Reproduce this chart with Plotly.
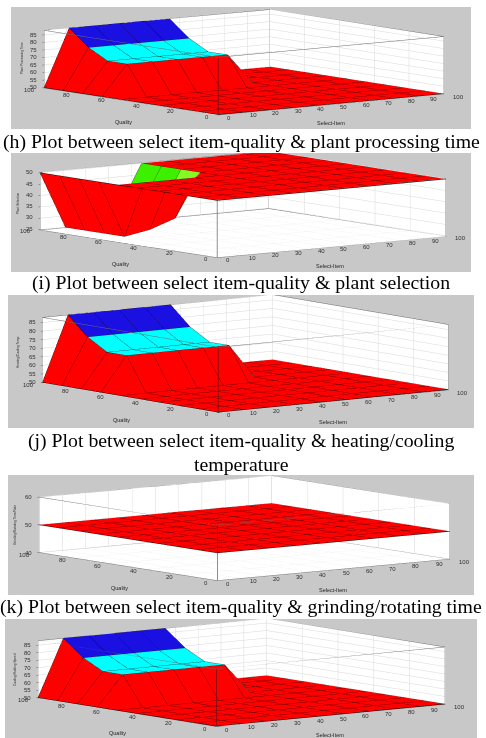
import math
import plotly.graph_objects as go

W, H = 486, 738

# Shared input grids of the fuzzy rule surfaces
SELECT_ITEM = [0, 11.1, 22.2, 33.3, 44.4, 55.6, 66.7, 77.8, 88.9, 100]
QUALITY = [0, 11.1, 22.2, 33.3, 44.4, 55.6, 66.7, 77.8, 88.9, 100]
SELECT_TICKS = [0, 10, 20, 30, 40, 50, 60, 70, 80, 90, 100]
QUALITY_TICKS = [0, 20, 40, 60, 80, 100]

# Output surfaces: one row per QUALITY value, one column per SELECT_ITEM value
PROCESSING_TIME = [
    [50, 50, 50, 50, 50, 50, 50, 50, 50, 50],
    [50, 50, 50, 50, 50, 50, 50, 50, 50, 50],
    [50, 50, 50, 50, 50, 50, 50, 50, 50, 50],
    [50, 50, 50, 50, 50, 50, 50, 50, 50, 50],
    [50, 50, 50, 50, 50, 50, 50, 50, 50, 50],
    [50, 50, 50, 50, 50, 50, 50, 50, 50, 50],
    [50, 70, 70, 70, 70, 70, 50, 50, 50, 50],
    [50, 70, 70, 70, 70, 70, 50, 50, 50, 50],
    [50, 77, 77, 77, 77, 77, 50, 50, 50, 50],
    [50, 88, 88, 88, 88, 88, 50, 50, 50, 50],
]
PLANT_SELECTION = [
    [50, 50, 50, 50, 50, 50, 50, 50, 50, 50],
    [50, 50, 50, 50, 50, 50, 50, 50, 50, 50],
    [50, 50, 50, 50, 50, 50, 50, 50, 50, 50],
    [50, 50, 50, 50, 50, 50, 50, 50, 50, 50],
    [50, 50, 50, 50, 50, 50, 50, 50, 50, 50],
    [50, 50, 50, 50, 50, 50, 50, 50, 50, 50],
    [50, 25, 27, 31, 50, 50, 50, 50, 50, 50],
    [50, 25, 27, 29, 50, 50, 50, 50, 50, 50],
    [50, 25, 27, 29, 50, 50, 50, 50, 50, 50],
    [50, 25, 27, 29, 50, 50, 50, 50, 50, 50],
]
HEATING_TEMP = [
    [50, 50, 50, 50, 50, 50, 50, 50, 50, 50],
    [50, 50, 50, 50, 50, 50, 50, 50, 50, 50],
    [50, 50, 50, 50, 50, 50, 50, 50, 50, 50],
    [50, 50, 50, 50, 50, 50, 50, 50, 50, 50],
    [50, 50, 50, 50, 50, 50, 50, 50, 50, 50],
    [50, 50, 50, 50, 50, 50, 50, 50, 50, 50],
    [50, 70, 70, 70, 70, 70, 50, 50, 50, 50],
    [50, 70, 70, 70, 70, 70, 50, 50, 50, 50],
    [50, 77, 77, 77, 77, 77, 50, 50, 50, 50],
    [50, 88, 88, 88, 88, 88, 50, 50, 50, 50],
]
GRINDING_TIME = [[50] * 10 for _ in QUALITY]
HOLDING_SPEED = [
    [50, 50, 50, 50, 50, 50, 50, 50, 50, 50],
    [50, 50, 50, 50, 50, 50, 50, 50, 50, 50],
    [50, 50, 50, 50, 50, 50, 50, 50, 50, 50],
    [50, 50, 50, 50, 50, 50, 50, 50, 50, 50],
    [50, 50, 50, 50, 50, 50, 50, 50, 50, 50],
    [50, 50, 50, 50, 50, 50, 50, 50, 50, 50],
    [50, 70, 70, 70, 70, 70, 50, 50, 50, 50],
    [50, 70, 70, 70, 70, 70, 50, 50, 50, 50],
    [50, 77, 77, 77, 77, 77, 50, 50, 50, 50],
    [50, 88, 88, 88, 88, 88, 50, 50, 50, 50],
]

Z_TICKS_TIME = [50, 55, 60, 65, 70, 75, 80, 85]
Z_TICKS_SELECTION = [25, 30, 35, 40, 45, 50]
Z_TICKS_GRINDING = [40, 50, 60]

RED, BLUE, CYAN = "#ff0000", "#1a10e2", "#00ffff"
GREEN, LIME = "#3cf000", "#84fa24"
PANEL = "#c8c8c8"
SERIF = "Liberation Serif"
SANS = "Liberation Sans"

TIME_BANDS = [(60, RED), (75, CYAN), (1e9, BLUE)]
SELECTION_BANDS = [(28, RED), (30, GREEN), (45, LIME), (1e9, RED)]
FLAT_BANDS = [(1e9, RED)]

# Each panel: rectangle in pixels, surface, axis scale, camera framing and titles.
# The z limits sit just past the flat levels so walls never fight the surface.
PANELS = [
    dict(box=(11, 7, 471, 128.5), z=PROCESSING_TIME, zr=(49.7, 88), zt=Z_TICKS_TIME, bands=TIME_BANDS,
         corners=dict(left=(43, 88), front=(218, 115), right=(445, 94), height=58),
         ztitle="Plant Processing Time", zpos=(22, 58), qpos=(123, 122), spos=(331, 123)),
    dict(box=(11, 152.5, 471, 271), z=PLANT_SELECTION, zr=(24.8, 50.2), zt=Z_TICKS_SELECTION, bands=SELECTION_BANDS,
         corners=dict(left=(39, 231), front=(217, 257), right=(447, 234), height=58),
         ztitle="Plant Selection", zpos=(18, 204), qpos=(120, 264), spos=(330, 265.5)),
    dict(box=(8, 295, 474, 427.7), z=HEATING_TEMP, zr=(49.7, 88), zt=Z_TICKS_TIME, bands=TIME_BANDS,
         corners=dict(left=(41, 383), front=(218, 413), right=(450, 390), height=66),
         ztitle="Heating/Cooling Temp", zpos=(18, 352), qpos=(121, 420), spos=(333, 422)),
    dict(box=(8, 475, 474, 595), z=GRINDING_TIME, zr=(40, 60), zt=Z_TICKS_GRINDING, bands=FLAT_BANDS,
         corners=dict(left=(37, 553), front=(217, 581), right=(452, 559), height=56),
         ztitle="Grinding/Rotating Time/Rate", zpos=(15, 525), qpos=(119, 588), spos=(333, 590)),
    dict(box=(5, 619, 477, 738), z=HOLDING_SPEED, zr=(49.7, 88), zt=Z_TICKS_TIME, bands=TIME_BANDS,
         corners=dict(left=(36, 699), front=(216, 727), right=(447, 704), height=58),
         ztitle="Cooling/Holding Speed", zpos=(15, 670), qpos=(117, 733), spos=(330, 735)),
]

CAPTIONS = [
    ("(h) Plot between select item-quality &amp; plant processing time", 241, 141),
    ("(i) Plot between select item-quality &amp; plant selection", 241, 283),
    ("(j) Plot between select item-quality &amp; heating/cooling", 241, 440),
    ("temperature", 241, 464),
    ("(k) Plot between select item-quality &amp; grinding/rotating time", 241, 606),
]

# Orthographic zoom in plotly follows aspectratio: one aspect unit spans this share of the scene height
UNIT_PER_HEIGHT = 0.505


def band_color(value, bands):
    for limit, color in bands:
        if value < limit:
            return color
    return bands[-1][1]


def mesh_trace(z, bands, scene):
    xs, ys, zs, i, j, k, colors = [], [], [], [], [], [], []
    nq, ns = len(QUALITY), len(SELECT_ITEM)
    for r in range(nq):
        for c in range(ns):
            xs.append(SELECT_ITEM[c])
            ys.append(QUALITY[r])
            zs.append(z[r][c])
    for r in range(nq - 1):
        for c in range(ns - 1):
            a, b = r * ns + c, r * ns + c + 1
            d, e = (r + 1) * ns + c, (r + 1) * ns + c + 1
            color = band_color(z[r][c], bands)
            i += [a, a]
            j += [b, e]
            k += [e, d]
            colors += [color, color]
    return go.Mesh3d(x=xs, y=ys, z=zs, i=i, j=j, k=k, facecolor=colors, flatshading=True,
                     lighting=dict(ambient=1, diffuse=0, specular=0, roughness=1, fresnel=0),
                     hoverinfo="skip", showscale=False, scene=scene)


def grid_trace(z, scene):
    xs, ys, zs = [], [], []
    for r, q in enumerate(QUALITY):
        xs += SELECT_ITEM + [None]
        ys += [q] * len(SELECT_ITEM) + [None]
        zs += z[r] + [None]
    for c, s in enumerate(SELECT_ITEM):
        xs += [s] * len(QUALITY) + [None]
        ys += QUALITY + [None]
        zs += [row[c] for row in z] + [None]
    return go.Scatter3d(x=xs, y=ys, z=zs, mode="lines", line=dict(color="#180000", width=1),
                        hoverinfo="skip", showlegend=False, scene=scene)


def box_trace(zr, scene):
    lo, hi = zr
    xs, ys, zs = [], [], []
    for a in (0, 100):
        xs += [a, a, None, a, a, None]; ys += [0, 100, None, 0, 100, None]; zs += [lo, lo, None, hi, hi, None]
        xs += [0, 100, None, 0, 100, None]; ys += [a, a, None, a, a, None]; zs += [lo, lo, None, hi, hi, None]
        for b in (0, 100):
            if (a, b) != (0, 0):
                xs += [a, a, None]; ys += [b, b, None]; zs += [lo, hi, None]
    return go.Scatter3d(x=xs, y=ys, z=zs, mode="lines", line=dict(color="#6a6a6a", width=1),
                        hoverinfo="skip", showlegend=False, scene=scene)


def front_edge_trace(zr, scene):
    return go.Scatter3d(x=[0, 0], y=[0, 0], z=list(zr), mode="lines", line=dict(color="#202020", width=1),
                        hoverinfo="skip", showlegend=False, scene=scene)


def axis(ticks, rng):
    return dict(range=list(rng), tickmode="array", tickvals=ticks, title=dict(text=""),
                showbackground=True, backgroundcolor="white", gridcolor="#d8d8d8", gridwidth=1,
                zeroline=False, showline=False, showspikes=False, ticks="outside", ticklen=2,
                tickcolor="#555555", showticklabels=False)


def tick_label(value, x, y, z, anchor, xshift, yshift):
    return dict(x=x, y=y, z=z, text=str(value), showarrow=False, xanchor=anchor, yanchor="middle",
                xshift=xshift, yshift=yshift, font=dict(family=SANS, size=6, color="#303030"))


def tick_labels(p):
    lo = p["zr"][0]
    labels = [tick_label(s, s, 0, lo, "left", 7, -3) for s in SELECT_TICKS]
    labels += [tick_label(q, 0, q, lo, "right", -7, -2) for q in QUALITY_TICKS]
    labels += [tick_label(v, 0, 100, v, "right", -5, 0) for v in p["zt"]]
    return labels


def scene_layout(p):
    x0, y0, x1, y1 = p["box"]
    c = p["corners"]
    # Screen vectors of the two horizontal axes give the orthographic view angles
    sx, sy = c["right"][0] - c["front"][0], c["front"][1] - c["right"][1]
    qx, qy = c["front"][0] - c["left"][0], c["front"][1] - c["left"][1]
    sin_e = math.sqrt((sy / sx) * (qy / qx))
    az = math.atan2(qx, sx)
    cos_e = math.sqrt(1 - sin_e ** 2)
    span = math.hypot(sx, qx)
    unit = UNIT_PER_HEIGHT * (y1 - y0)
    dir_vec = (-math.sin(az) * cos_e, -math.cos(az) * cos_e, sin_e)
    # Pixel offset of the box centre from the panel centre, expressed in scene units
    bx = (c["left"][0] + c["right"][0]) / 2
    by = (c["left"][1] + c["right"][1]) / 2 - c["height"] / 2
    dx = (bx - (x0 + x1) / 2) / unit
    dy = (by - (y0 + y1) / 2) / unit
    right = (math.cos(az), -math.sin(az), 0)
    up = (math.sin(az) * sin_e, math.cos(az) * sin_e, cos_e)
    center = tuple(-dx * r + dy * u for r, u in zip(right, up))
    eye = tuple(ce + 8 * d for ce, d in zip(center, dir_vec))
    return dict(
        domain=dict(x=[x0 / W, x1 / W], y=[1 - y1 / H, 1 - y0 / H]),
        bgcolor=PANEL,
        aspectmode="manual",
        aspectratio=dict(x=span / unit, y=span / unit, z=c["height"] / (unit * cos_e)),
        camera=dict(projection=dict(type="orthographic"), up=dict(x=0, y=0, z=1),
                    center=dict(x=center[0], y=center[1], z=center[2]),
                    eye=dict(x=eye[0], y=eye[1], z=eye[2])),
        xaxis=axis(SELECT_TICKS, (0, 100)),
        yaxis=axis(QUALITY_TICKS, (0, 100)),
        zaxis=axis(p["zt"], p["zr"]),
        annotations=tick_labels(p),
    )


def text(label, x, y, size, family=SANS, angle=0, color="#222222"):
    return dict(text=label, x=x / W, y=1 - y / H, xref="paper", yref="paper", showarrow=False,
                xanchor="center", yanchor="middle", textangle=angle,
                font=dict(family=family, size=size, color=color))


fig = go.Figure()
layout = dict(width=W, height=H, margin=dict(l=0, r=0, t=0, b=0), paper_bgcolor="white", showlegend=False)
notes = []
for n, p in enumerate(PANELS, start=1):
    name = "scene" if n == 1 else f"scene{n}"
    fig.add_trace(mesh_trace(p["z"], p["bands"], name))
    fig.add_trace(grid_trace(p["z"], name))
    fig.add_trace(box_trace(p["zr"], name))
    fig.add_trace(front_edge_trace(p["zr"], name))
    layout[name] = scene_layout(p)
    notes.append(text(p["ztitle"], *p["zpos"], 3.2, angle=-90))
    notes.append(text("Quality", *p["qpos"], 5.5))
    notes.append(text("Select-Item", *p["spos"], 5.5))
for label, x, y in CAPTIONS:
    notes.append(text(label, x, y, 19.8, family=SERIF, color="black"))
layout["annotations"] = notes
fig.update_layout(**layout)
fig.write_html("out.html")
